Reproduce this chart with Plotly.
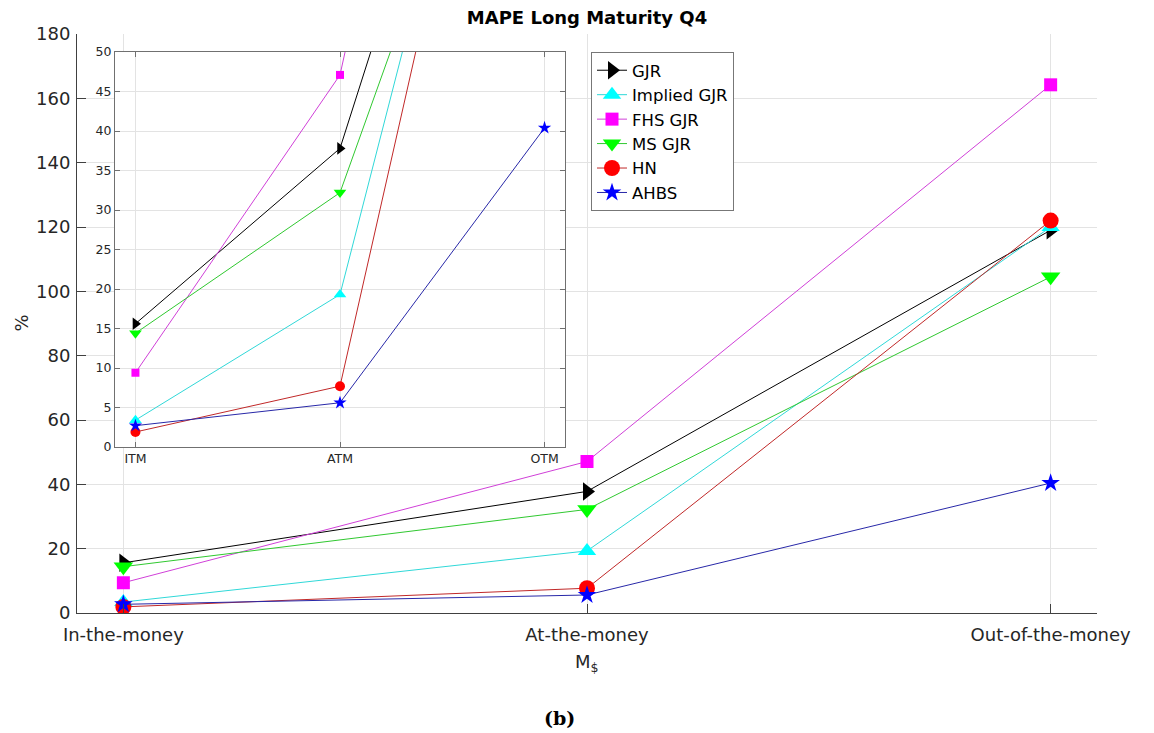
import plotly.graph_objects as go

# ---------------- data ----------------
CATEGORIES = ["In-the-money", "At-the-money", "Out-of-the-money"]
INSET_CATEGORIES = ["ITM", "ATM", "OTM"]
SERIES_NAMES = ["GJR", "Implied GJR", "FHS GJR", "MS GJR", "HN", "AHBS"]
GJR = [15.6, 37.8, 119.0]
IMPLIED_GJR = [3.4, 19.3, 120.0]
FHS_GJR = [9.4, 47.1, 164.2]
MS_GJR = [14.4, 32.2, 104.5]
HN = [1.9, 7.7, 122.0]
AHBS = [2.7, 5.6, 40.4]
MAIN_Y_TICKS = [0, 20, 40, 60, 80, 100, 120, 140, 160, 180]
INSET_Y_TICKS = [0, 5, 10, 15, 20, 25, 30, 35, 40, 45, 50]

SERIES_VALUES = [GJR, IMPLIED_GJR, FHS_GJR, MS_GJR, HN, AHBS]

# ---------------- styles ----------------
MARKER_COLORS = ["#000000", "#00ffff", "#ff00ff", "#00ff00", "#ff0000", "#0000ff"]
LINE_COLORS = ["#000000", "#30d8d8", "#d040d8", "#30c830", "#c02828", "#2828a8"]
SYMBOLS = ["triangle-right", "triangle-up", "square", "triangle-down", "circle", "star"]
MAIN_SIZES = [16, 16, 13, 17, 16, 14]
INSET_SIZES = [11, 11, 8, 11, 10, 10]

FONT = "DejaVu Sans"
AXIS_COLOR = "#404040"
GRID_COLOR = "#e3e3e3"

# the page body has an 8px margin; positions below are given in page pixels
OFF = 8
W, H = 1154 - OFF, 733 - OFF
PLOT_LEFT, PLOT_RIGHT, PLOT_TOP, PLOT_BOTTOM = 77, 1097, 34, 613
L = PLOT_LEFT - OFF
R = W - (PLOT_RIGHT - OFF)
T = PLOT_TOP - OFF
B = H - (PLOT_BOTTOM - OFF)
PW, PH = PLOT_RIGHT - PLOT_LEFT, PLOT_BOTTOM - PLOT_TOP


def px_x(p):
    return (p - PLOT_LEFT) / PW


def px_y(p):
    return (PLOT_BOTTOM - p) / PH


fig = go.Figure()

for i, name in enumerate(SERIES_NAMES):
    fig.add_trace(go.Scatter(
        x=CATEGORIES, y=SERIES_VALUES[i], name=name, mode="lines+markers",
        line=dict(color=LINE_COLORS[i], width=1),
        marker=dict(symbol=SYMBOLS[i], size=MAIN_SIZES[i], color=MARKER_COLORS[i],
                    line=dict(width=0)),
        xaxis="x", yaxis="y",
    ))

for i, name in enumerate(SERIES_NAMES):
    fig.add_trace(go.Scatter(
        x=INSET_CATEGORIES, y=SERIES_VALUES[i], name=name, mode="lines+markers",
        line=dict(color=LINE_COLORS[i], width=1),
        marker=dict(symbol=SYMBOLS[i], size=INSET_SIZES[i], color=MARKER_COLORS[i],
                    line=dict(width=0)),
        xaxis="x2", yaxis="y2", showlegend=False,
    ))

fig.update_layout(
    width=W, height=H,
    margin=dict(l=L, r=R, t=T, b=B, pad=0),
    paper_bgcolor="white", plot_bgcolor="white",
    font=dict(family=FONT, size=18, color="#262626"),
    title=dict(text="<b>MAPE Long Maturity Q4</b>", x=px_x(587), xref="paper",
               xanchor="center", y=1 - (18 - OFF) / H, yref="container", yanchor="middle",
               font=dict(family=FONT, size=18, color="#000000")),
    xaxis=dict(
        type="category", range=[-0.1, 2.1], domain=[0, 1], anchor="y",
        showline=True, linecolor=AXIS_COLOR, linewidth=1, mirror=False,
        ticks="inside", ticklen=9, tickcolor=AXIS_COLOR, ticklabelstandoff=5,
        showgrid=True, gridcolor=GRID_COLOR, gridwidth=1,
        tickfont=dict(family=FONT, size=18, color="#262626"), zeroline=False,
    ),
    yaxis=dict(
        range=[0, 180], domain=[0, 1], anchor="x",
        tickvals=MAIN_Y_TICKS,
        showline=True, linecolor=AXIS_COLOR, linewidth=1, mirror=False,
        ticks="inside", ticklen=9, tickcolor=AXIS_COLOR, ticklabelstandoff=2,
        showgrid=True, gridcolor=GRID_COLOR, gridwidth=1,
        tickfont=dict(family=FONT, size=18, color="#262626"), zeroline=False,
    ),
    xaxis2=dict(
        type="category", range=[-0.1, 2.1], domain=[px_x(115), px_x(565)], anchor="y2",
        showline=True, linecolor="#707070", linewidth=1, mirror="ticks",
        ticks="inside", ticklen=5, tickcolor="#707070",
        showgrid=True, gridcolor=GRID_COLOR, gridwidth=1,
        tickfont=dict(family=FONT, size=12.5, color="#262626"), zeroline=False,
    ),
    yaxis2=dict(
        range=[0, 50], domain=[px_y(447), px_y(52)], anchor="x2",
        tickvals=INSET_Y_TICKS,
        showline=True, linecolor="#707070", linewidth=1, mirror="ticks",
        ticks="inside", ticklen=5, tickcolor="#707070",
        showgrid=True, gridcolor=GRID_COLOR, gridwidth=1,
        tickfont=dict(family=FONT, size=12.5, color="#262626"), zeroline=False,
    ),
    legend=dict(
        x=px_x(591), y=px_y(52), xanchor="left", yanchor="top",
        xref="paper", yref="paper",
        bgcolor="white", bordercolor="#777777", borderwidth=1,
        font=dict(family=FONT, size=16.5, color="#000000"),
        itemwidth=30, tracegroupgap=0,
    ),
    showlegend=True,
)

fig.add_annotation(text="%", xref="paper", yref="paper", x=px_x(21), y=0.5,
                   textangle=-90, showarrow=False, xanchor="center", yanchor="middle",
                   font=dict(family=FONT, size=18, color="#262626"))
fig.add_annotation(text="M<sub>$</sub>", xref="paper", yref="paper", x=0.5, y=px_y(649),
                   showarrow=False, xanchor="center", yanchor="top",
                   font=dict(family=FONT, size=18, color="#262626"))
fig.add_annotation(text="<b>(b)</b>", xref="paper", yref="paper", x=px_x(559), y=px_y(718),
                   showarrow=False, xanchor="center", yanchor="middle",
                   font=dict(family="DejaVu Serif", size=19, color="#000000"))

fig.write_html("out.html")
